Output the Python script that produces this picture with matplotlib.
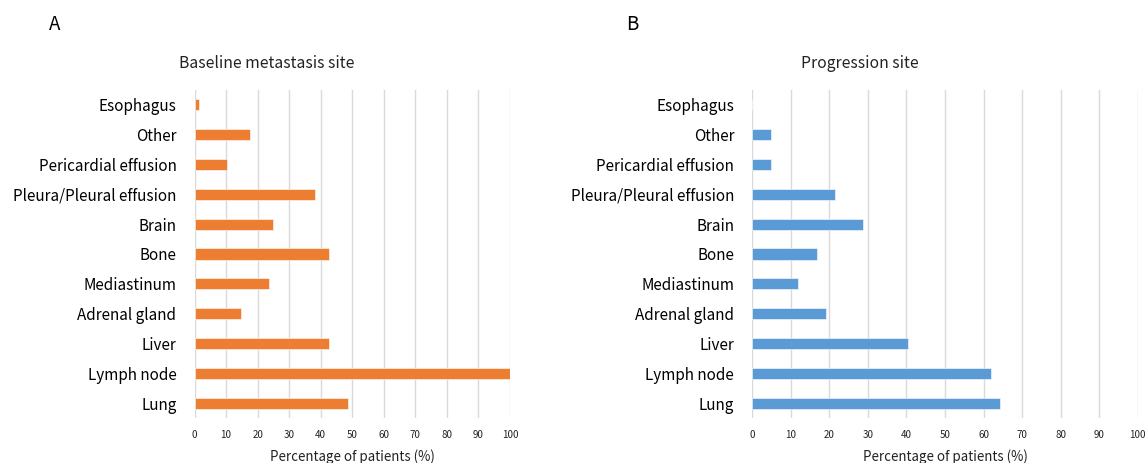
import numpy as np
import matplotlib.pyplot as plt

plt.rcParams['font.family'] = ['Noto Sans CJK KR', 'DejaVu Sans']

sites = ["Lung", "Lymph node", "Liver", "Adrenal gland", "Mediastinum", "Bone",
         "Brain", "Pleura/Pleural effusion", "Pericardial effusion", "Other", "Esophagus"]
baseline = [48.5, 100, 42.6, 14.6, 23.5, 42.6, 25.0, 38.2, 10.3, 17.6, 1.4]
progression = [64.3, 61.9, 40.5, 19.0, 11.9, 16.7, 28.6, 21.4, 4.8, 4.8, 0]
xticks = list(range(0, 101, 10))

W, H = 1148, 463
fig = plt.figure(figsize=(W / 100, H / 100), dpi=100)

def panel(left, right, vals, color, title, title_x, letter, letter_x):
    ax = fig.add_axes([left / W, 1 - 418 / H, (right - left) / W, 328 / H])
    y = np.arange(len(sites))
    ax.barh(y, vals, height=0.37, color=color, edgecolor='white', linewidth=0.4, zorder=3)
    ax.set_xlim(0, 100)
    ax.set_ylim(-0.5, len(sites) - 0.5)
    ax.set_yticks(y)
    ax.set_yticklabels(sites, fontsize=11, color='#000000')
    ax.set_xticks(xticks)
    ax.set_xticklabels([str(t) for t in xticks], fontsize=7, color='#222222')
    ax.tick_params(axis='y', length=0, pad=13)
    ax.tick_params(axis='x', length=0, pad=9)
    for s in ax.spines.values():
        s.set_visible(False)
    ax.grid(axis='x', color='#d9d9d9', linewidth=1, zorder=0)
    ax.set_xlabel("Percentage of patients (%)", fontsize=9.6, labelpad=6, color='#222222')
    fig.text(title_x / W, 1 - 63 / H, title, fontsize=11.3, ha='center', va='center', color='#222222')
    fig.text(letter_x / W, 1 - 24 / H, letter, fontsize=13.5, ha='center', va='center')
    return ax

panel(194.5, 510, baseline, '#ed7d31', "Baseline metastasis site", 267, "A", 55)
panel(752.3, 1137.7, progression, '#5b9bd5', "Progression site", 860, "B", 632)

fig.savefig("out.png", dpi=100)
